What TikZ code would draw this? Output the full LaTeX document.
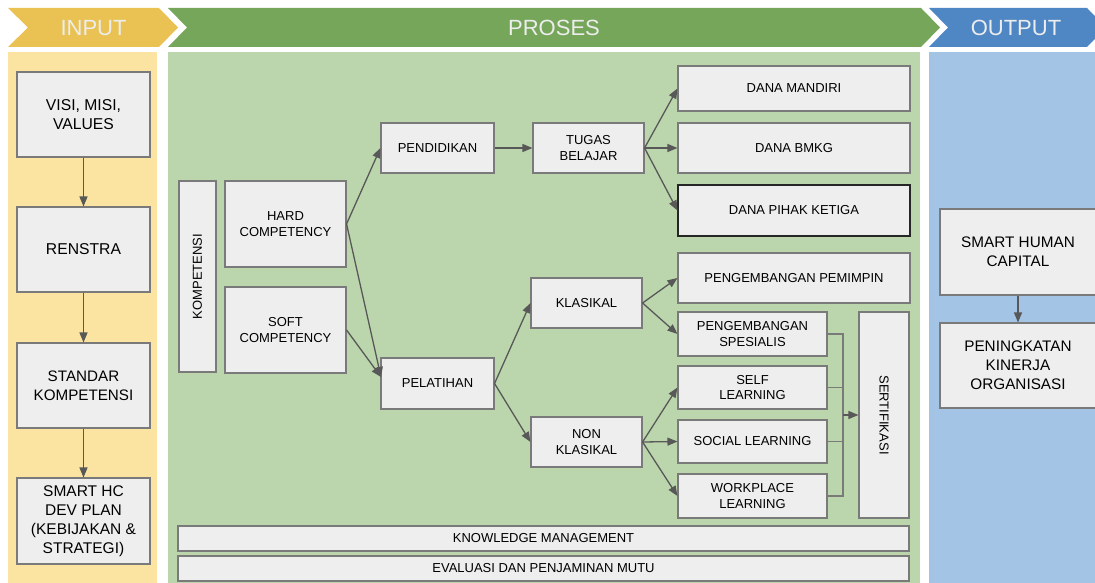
\documentclass[tikz,border=0pt]{standalone}
\usepackage{fontspec}
\setmainfont{Liberation Sans}
\usepackage{tikz}
\usetikzlibrary{arrows.meta,shapes}

\definecolor{inhead}{HTML}{E9C253}
\definecolor{inpanel}{HTML}{FBE3A1}
\definecolor{prohead}{HTML}{76A65A}
\definecolor{propanel}{HTML}{BBD6AC}
\definecolor{outhead}{HTML}{4F86C4}
\definecolor{outpanel}{HTML}{A3C4E4}
\definecolor{boxfill}{HTML}{EEEEEE}
\definecolor{boxline}{HTML}{7A7A7A}
\definecolor{arrline}{HTML}{585858}

\begin{document}
\begin{tikzpicture}[x=1pt, y=-1pt,
		box/.style={rectangle,draw=boxline,fill=boxfill,line width=1.1pt,inner sep=0pt,align=center,font={\fontsize{13}{15.7}\selectfont}},
		inbox/.style={box,font={\fontsize{15.7}{19}\selectfont}},
		outbox/.style={box,font={\fontsize{15.3}{19.2}\selectfont}},
		header/.style={text=white!93!black,font={\fontsize{22}{26}\selectfont}},
		link/.style={draw=arrline,line width=1.3pt,-{Triangle[length=10pt,width=8pt]}},
		wire/.style={draw=boxline,line width=1.1pt}]
		\useasboundingbox (0,0) rectangle (1095,583);

		\fill[inhead] (8,8) -- (159,8) -- (178,27.5) -- (159,47) -- (8,47) -- (28,27.5) -- cycle;
		\fill[prohead] (168,8) -- (921,8) -- (940,27.5) -- (921,47) -- (168,47) -- (187,27.5) -- cycle;
		\fill[outhead] (929,8) -- (1087,8) -- (1106,27.5) -- (1087,47) -- (929,47) -- (948,27.5) -- cycle;
		\node[header] (hin) at (93.5,28) {INPUT};
		\node[header] (hpro) at (554,28) {PROSES};
		\node[header] (hout) at (1016,28) {OUTPUT};

		\fill[inpanel] (8,52) rectangle (157,583);
		\fill[propanel] (168,52) rectangle (920,583);
		\fill[outpanel] (929,52) rectangle (1095,583);

		\node[inbox,minimum width=133pt,minimum height=85pt] (visi) at (83.5,114.5) {VISI, MISI,\\VALUES};
		\node[inbox,minimum width=133pt,minimum height=85pt] (renstra) at (83.5,249.5) {RENSTRA};
		\node[inbox,minimum width=133pt,minimum height=85pt,font={\fontsize{15.2}{19}\selectfont}] (standar) at (83.5,385.5) {STANDAR\\KOMPETENSI};
		\node[inbox,minimum width=133pt,minimum height=86pt,font={\fontsize{15.5}{19}\selectfont}] (smarthc) at (83.5,521) {SMART HC\\DEV PLAN\\(KEBIJAKAN \&\\STRATEGI)};
		\draw[link] (visi) -- (renstra);
		\draw[link] (renstra) -- (standar);
		\draw[link] (standar) -- (smarthc);

		\node[box,minimum width=37pt,minimum height=191pt] (komp) at (197.5,276.5) {\rotatebox{90}{KOMPETENSI}};
		\node[box,minimum width=121pt,minimum height=86pt] (hard) at (285.5,224) {HARD\\COMPETENCY};
		\node[box,minimum width=121pt,minimum height=86pt] (soft) at (285.5,330) {SOFT\\COMPETENCY};
		\node[box,minimum width=113pt,minimum height=50pt] (pend) at (437.5,148) {PENDIDIKAN};
		\node[box,minimum width=113pt,minimum height=51pt] (pelat) at (437.5,383.5) {PELATIHAN};
		\coordinate (pelin) at (381,377);
		\node[box,minimum width=111pt,minimum height=50pt] (tugas) at (588.5,148) {TUGAS\\BELAJAR};
		\node[box,minimum width=111pt,minimum height=50pt] (klas) at (586.5,303) {KLASIKAL};
		\node[box,minimum width=111pt,minimum height=50pt] (nonklas) at (586.5,442) {NON\\KLASIKAL};

		\node[box,minimum width=232pt,minimum height=45pt] (dmandiri) at (794,88.5) {DANA MANDIRI};
		\node[box,minimum width=232pt,minimum height=50pt] (dbmkg) at (794,148) {DANA BMKG};
		\node[box,draw=black!85,minimum width=232pt,minimum height=51pt] (dpihak) at (794,210.5) {DANA PIHAK KETIGA};
		\node[box,minimum width=232pt,minimum height=50pt] (pemimpin) at (794,278) {PENGEMBANGAN PEMIMPIN};
		\node[box,minimum width=149pt,minimum height=44pt] (spesialis) at (752.5,334) {PENGEMBANGAN\\SPESIALIS};
		\node[box,minimum width=149pt,minimum height=43pt] (self) at (752.5,387.5) {SELF\\LEARNING};
		\node[box,minimum width=149pt,minimum height=43pt] (social) at (752.5,441.5) {SOCIAL LEARNING};
		\node[box,minimum width=149pt,minimum height=44pt] (workplace) at (752.5,496) {WORKPLACE\\LEARNING};
		\node[box,minimum width=50pt,minimum height=206pt] (sertif) at (884,415) {\rotatebox{-90}{SERTIFIKASI}};
		\coordinate (join) at (843,415);

		\node[box,minimum width=731pt,minimum height=25pt] (km) at (543.5,538.5) {KNOWLEDGE MANAGEMENT};
		\node[box,minimum width=731pt,minimum height=25pt] (eval) at (543.5,568.5) {EVALUASI DAN PENJAMINAN MUTU};

		\draw[link] (hard.east) -- (pend.west);
		\draw[link] (hard.east) -- (pelin);
		\draw[link] (soft.east) -- (pelin);
		\draw[link] (pend) -- (tugas);
		\draw[link] (tugas.east) -- (dmandiri.west);
		\draw[link] (tugas.east) -- (dbmkg.west);
		\draw[link] (tugas.east) -- (dpihak.west);
		\draw[link] (pelat.east) -- (klas.west);
		\draw[link] (pelat.east) -- (nonklas.west);
		\draw[link] (klas.east) -- (pemimpin.west);
		\draw[link] (klas.east) -- (spesialis.west);
		\draw[link] (nonklas.east) -- (self.west);
		\draw[link] (nonklas.east) -- (social.west);
		\draw[link] (nonklas.east) -- (workplace.west);

		\draw[wire] (spesialis.east) -| (join);
		\draw[wire] (self.east) -| (join);
		\draw[wire] (social.east) -| (join);
		\draw[wire] (workplace.east) -| (join);
		\draw[link] (join) -- (join -| sertif.west);

		\node[outbox,minimum width=156pt,minimum height=86pt] (shc) at (1018,252) {SMART HUMAN\\CAPITAL};
		\node[outbox,minimum width=156pt,minimum height=85pt] (kinerja) at (1018,365.5) {PENINGKATAN\\KINERJA\\ORGANISASI};
		\draw[link] (shc) -- (kinerja);
\end{tikzpicture}
\end{document}
